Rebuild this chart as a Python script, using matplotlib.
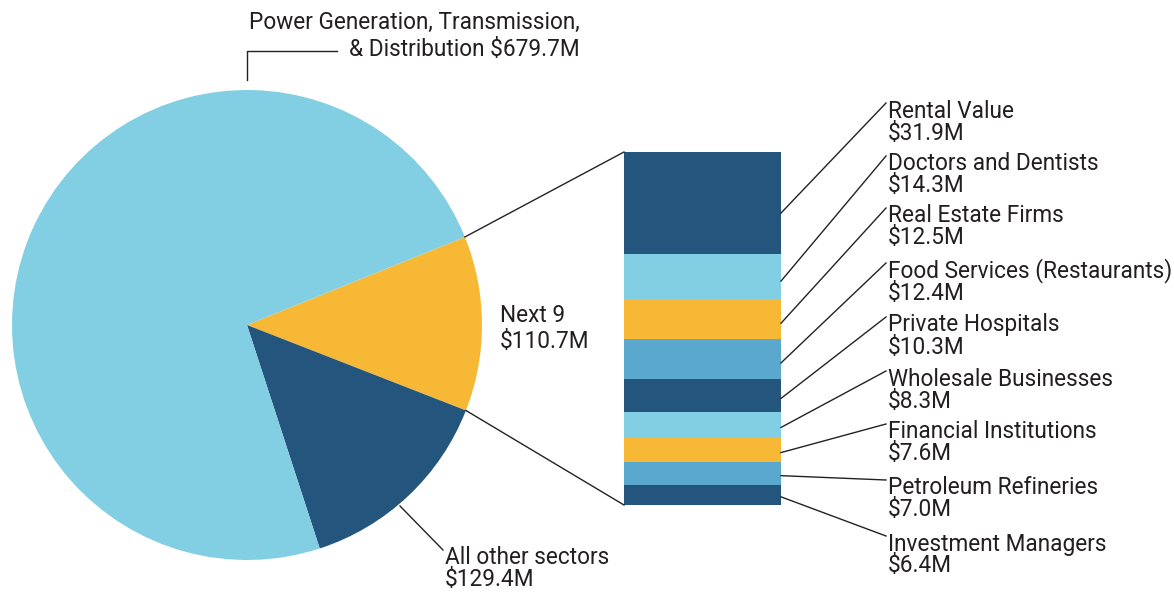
import numpy as np
import matplotlib.pyplot as plt

# dati (milioni di dollari)
pie_labels = ['Next 9', 'All other sectors', 'Power Generation, Transmission,\n& Distribution']
pie_values = [110.7, 129.4, 679.7]

sectors = ['Rental Value', 'Doctors and Dentists', 'Real Estate Firms',
           'Food Services (Restaurants)', 'Private Hospitals', 'Wholesale Businesses',
           'Financial Institutions', 'Petroleum Refineries', 'Investment Managers']
sector_values = [31.9, 14.3, 12.5, 12.4, 10.3, 8.3, 7.6, 7.0, 6.4]

dark = '#24557d'
light = '#82cfe3'
yellow = '#f7b935'
mid = '#5ba8cf'
txt = '#231f20'

pie_colors = [yellow, dark, light]
bar_colors = [dark, light, yellow, mid, dark, light, yellow, mid, dark]

plt.rcParams['font.family'] = ['Roboto', 'DejaVu Sans']

W, H = 1174, 594
fig = plt.figure(figsize=(W / 100, H / 100), dpi=100)
ax = fig.add_axes([0, 0, 1, 1])

def Y(y):
    # coordinate immagine -> coordinate assi
    return H - y

# torta
cx, cy, r = 247, Y(325), 235
start = 22
ax.pie(pie_values, colors=pie_colors, startangle=start, counterclock=False,
       center=(cx, cy), radius=r, frame=True, wedgeprops=dict(linewidth=0))

# angoli dei bordi dello spicchio giallo
a_top = np.radians(start)
a_bot = np.radians(start - 360 * pie_values[0] / sum(pie_values))
p_top = (cx + r * np.cos(a_top), cy + r * np.sin(a_top))
p_bot = (cx + r * np.cos(a_bot), cy + r * np.sin(a_bot))

# barra impilata
bx0, bx1 = 624, 781
btop, bbot = Y(152), Y(505)
scale = (btop - bbot) / sum(sector_values)
heights = np.array(sector_values) * scale
bottoms = btop - np.cumsum(heights)
ax.bar([(bx0 + bx1) / 2] * len(sector_values), heights, bottom=bottoms,
       width=bx1 - bx0, color=bar_colors, linewidth=0)

lk = dict(color='#222222', lw=1)
ax.plot([p_top[0], bx0], [p_top[1], btop], **lk)
ax.plot([p_bot[0], bx0], [p_bot[1], bbot], **lk)

# etichette dei settori
name_y = [111, 164, 216, 271, 325, 379, 432, 488, 544]
fs = 16.3
for i, (s, v) in enumerate(zip(sectors, sector_values)):
    yb = bottoms[i] + heights[i] * 0.4
    ax.plot([bx1, 886], [yb, Y(name_y[i] - 8)], **lk)
    ax.text(888, Y(name_y[i]), s, fontsize=fs, color=txt, va='center', ha='left')
    ax.text(888, Y(name_y[i] + 22), f'${v:.1f}M', fontsize=fs, color=txt, va='center', ha='left')

# etichette della torta
ax.text(580, Y(22), 'Power Generation, Transmission,', fontsize=fs, color=txt, va='center', ha='right')
ax.text(580, Y(50), f'& Distribution ${pie_values[2]:.1f}M', fontsize=fs, color=txt, va='center', ha='right')
ax.plot([247, 247, 337], [Y(80), Y(51), Y(51)], **lk)

ax.text(500, Y(316), pie_labels[0], fontsize=fs, color=txt, va='center', ha='left')
ax.text(500, Y(341), f'${pie_values[0]:.1f}M', fontsize=fs, color=txt, va='center', ha='left')

ax.text(445, Y(557), pie_labels[1], fontsize=fs, color=txt, va='center', ha='left')
ax.text(445, Y(580), f'${pie_values[1]:.1f}M', fontsize=fs, color=txt, va='center', ha='left')
ax.plot([400, 443], [Y(506), Y(550)], **lk)

ax.set_xlim(0, W)
ax.set_ylim(0, H)
ax.set_aspect('auto')
ax.set_position([0, 0, 1, 1])
ax.axis('off')

fig.savefig('out.png', dpi=100, facecolor='white')
